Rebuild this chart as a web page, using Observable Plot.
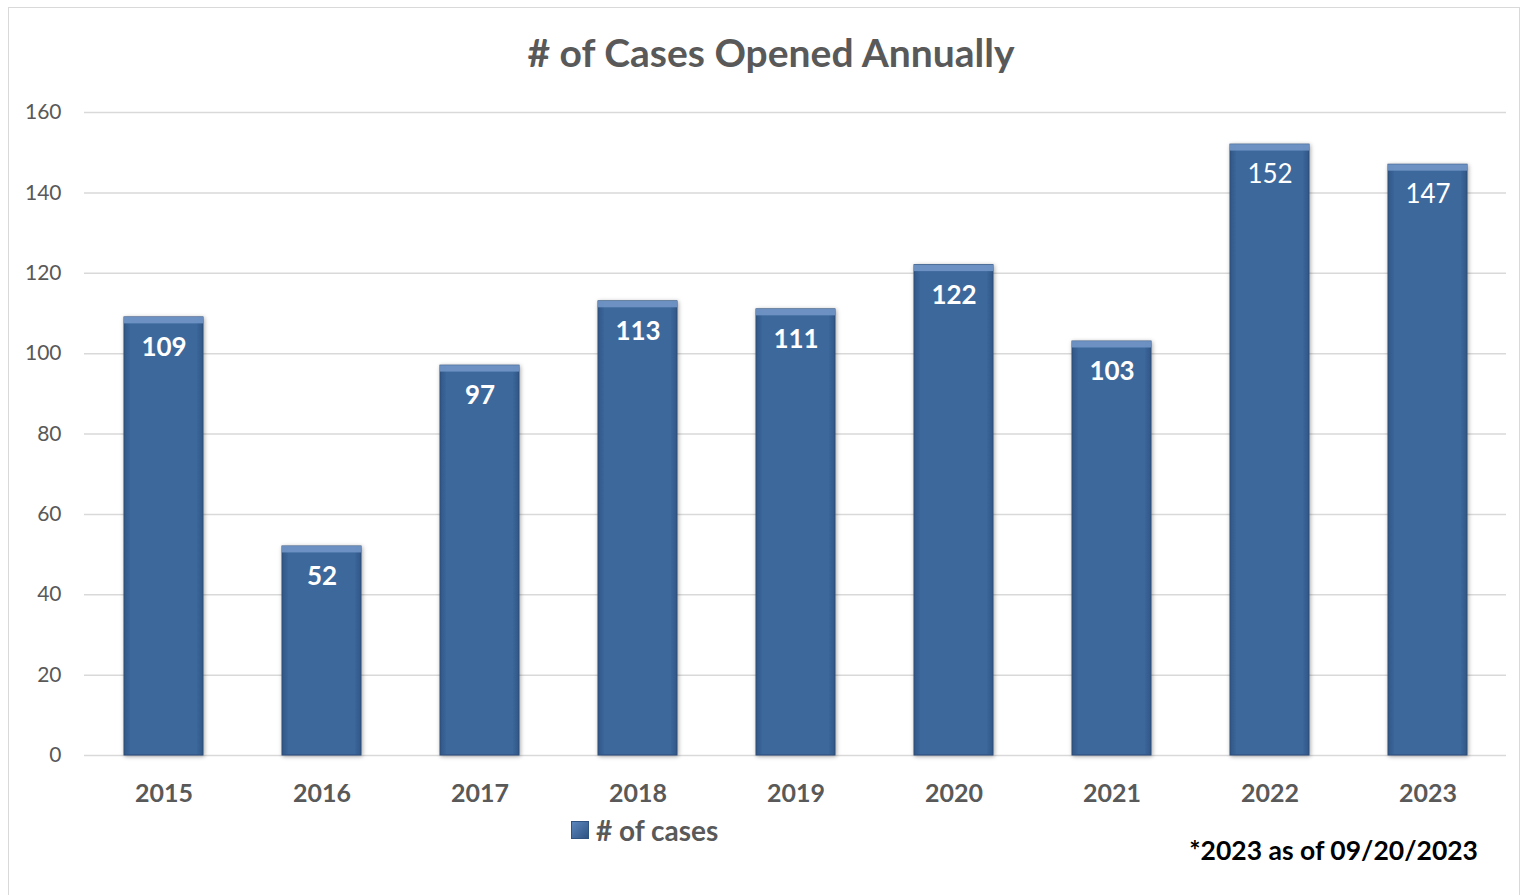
<!DOCTYPE html>
<html>
<head>
<meta charset="utf-8">
<script src="https://cdn.jsdelivr.net/npm/d3@7"></script>
<script src="https://cdn.jsdelivr.net/npm/@observablehq/plot@0.6"></script>
<style>
  html, body { margin: 0; padding: 0; background: #fff; }
  body { width: 1522px; height: 895px; position: relative; overflow: hidden; font-family: Lato, "Open Sans", sans-serif; }
  #frame { position: absolute; left: 8px; top: 7px; width: 1512px; height: 890px; border: 1px solid #d9d9d9; box-sizing: border-box; }
  #title { position: absolute; left: 0; width: 1542px; top: 29px; text-align: center; font-size: 39px; font-weight: 700; color: #595959; }
  #chart { position: absolute; left: 0; top: 95px; }
  #legend { position: absolute; left: 571px; top: 813px; font-size: 28px; font-weight: 700; color: #595959; display: flex; align-items: center; }
  #legend .sw { width: 18px; height: 18px; background: linear-gradient(135deg, #5b86bd, #2f5482); margin-right: 7px; border: 1px solid #2f5482; box-sizing: border-box; }
  #note { position: absolute; right: 44px; top: 834px; font-size: 26.5px; font-weight: 700; color: #000; }
</style>
</head>
<body>
<div id="frame"></div>
<div id="title"># of Cases Opened Annually</div>
<div id="chart"></div>
<div id="legend"><span class="sw"></span><span># of cases</span></div>
<div id="note">*2023 as of 09/20/2023</div>
<script>
const years = ["2015","2016","2017","2018","2019","2020","2021","2022","2023"];
const cases = [109, 52, 97, 113, 111, 122, 103, 152, 147];
const boldLabel = [true, true, true, true, true, true, true, false, false];
const yTicks = [0, 20, 40, 60, 80, 100, 120, 140, 160];

const data = years.map((y, i) => ({year: y, value: cases[i], bold: boldLabel[i]}));

const chart = Plot.plot({
  width: 1522,
  height: 715,
  marginLeft: 84,
  marginRight: 16,
  marginTop: 17,
  marginBottom: 55,
  style: {fontFamily: "Lato, 'Open Sans', sans-serif", fontSize: "20px", color: "#595959", background: "transparent"},
  x: {domain: years, paddingInner: 0.5, paddingOuter: 0.25, label: null, tickSize: 0},
  y: {domain: [0, 160], ticks: yTicks, label: null},
  marks: [
    Plot.gridY(yTicks, {stroke: "#d9d9d9", strokeOpacity: 1, strokeWidth: 1.5}),
    Plot.axisY(yTicks, {tickSize: 0, tickPadding: 23, fontSize: 21, fill: "#595959", label: null}),
    Plot.axisX({tickSize: 0, tickPadding: 29, fontSize: 25, fontWeight: 700, fill: "#595959", label: null}),
    Plot.barY(data, {x: "year", y: "value", fill: "url(#barGrad)", stroke: "#2c4d78", strokeWidth: 1}),
    Plot.barY(data, {x: "year", y1: d => d.value - 1.6, y2: "value", fill: "#7196c6", fillOpacity: 0.9}),
    Plot.text(data.filter(d => d.bold), {x: "year", y: "value", text: d => String(d.value), dy: 30, fill: "white", fontSize: 26, fontWeight: 700}),
    Plot.text(data.filter(d => !d.bold), {x: "year", y: "value", text: d => String(d.value), dy: 30, fill: "white", fontSize: 26, fontWeight: 400})
  ]
});

// gradient + shadow definitions
const svgNS = "http://www.w3.org/2000/svg";
const defs = document.createElementNS(svgNS, "defs");
defs.innerHTML = `
  <linearGradient id="barGrad" x1="0" x2="1" y1="0" y2="0">
    <stop offset="0" stop-color="#2f5685"/>
    <stop offset="0.08" stop-color="#3d679b"/>
    <stop offset="0.92" stop-color="#3d679b"/>
    <stop offset="1" stop-color="#2f5685"/>
  </linearGradient>
  <filter id="shadow" x="-20%" y="-5%" width="140%" height="110%">
    <feDropShadow dx="1" dy="1" stdDeviation="2" flood-color="#000" flood-opacity="0.35"/>
  </filter>`;
chart.insertBefore(defs, chart.firstChild);
const barGroups = chart.querySelectorAll("g[aria-label='bar']");
if (barGroups.length) barGroups[0].setAttribute("filter", "url(#shadow)");
document.getElementById("chart").appendChild(chart);
</script>
</body>
</html>
